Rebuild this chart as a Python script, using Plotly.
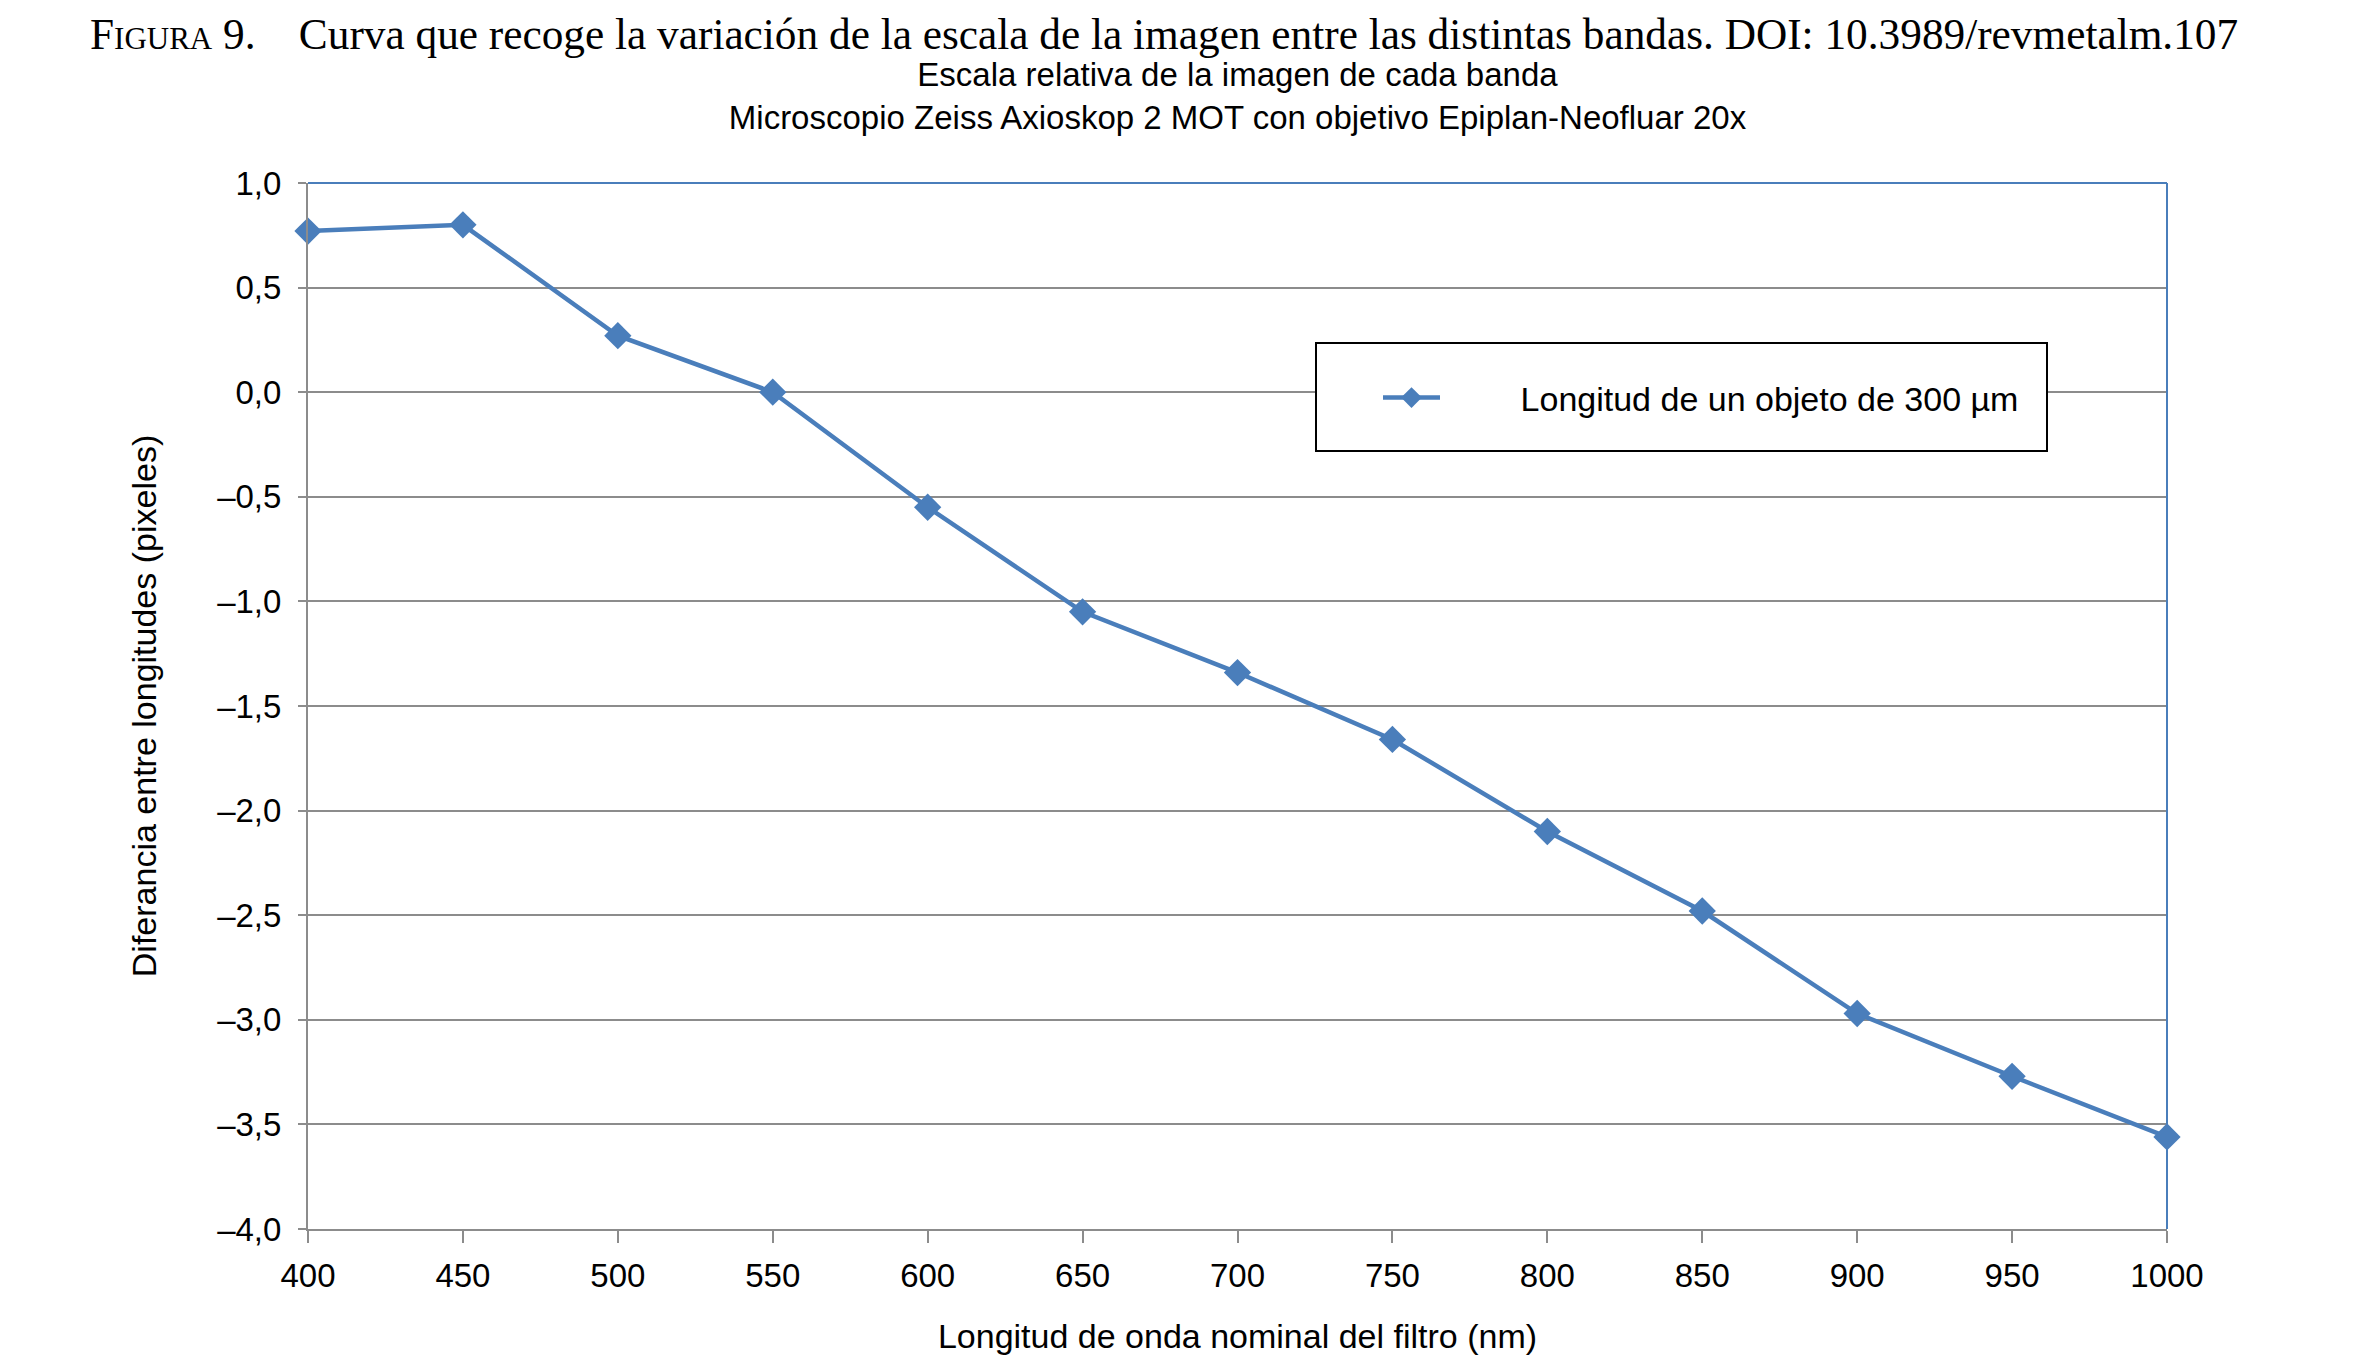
import plotly.graph_objects as go

wavelengths = [400, 450, 500, 550, 600, 650, 700, 750, 800, 850, 900, 950, 1000]
diferencia = [0.77, 0.80, 0.27, 0.0, -0.55, -1.05, -1.34, -1.66, -2.10, -2.48, -2.97, -3.27, -3.56]
series_name = "Longitud de un objeto de 300 µm"
y_ticks = [1.0, 0.5, 0.0, -0.5, -1.0, -1.5, -2.0, -2.5, -3.0, -3.5, -4.0]
y_ticklabels = ["1,0", "0,5", "0,0", "–0,5", "–1,0", "–1,5", "–2,0", "–2,5", "–3,0", "–3,5", "–4,0"]
x_ticks = wavelengths

OFF = 8  # page body margin
W, H = 2358 - 2 * OFF, 1363 - 2 * OFF
# target pixel positions in the final screenshot
L_s, R_s, T_s, B_s = 308, 2167, 183, 1229
L, R, T, B = L_s - OFF, R_s - OFF, T_s - OFF, B_s - OFF

def px(x):
    return (x - OFF - L) / (R - L)

def py(y):
    return (B - (y - OFF)) / (B - T)

blue = "#4A7EBB"
grid = "#8C8C8C"
sans = "Liberation Sans, Arial, sans-serif"
serif = "Liberation Serif, Times New Roman, serif"

fig = go.Figure()
fig.add_trace(go.Scatter(
    x=wavelengths, y=diferencia, mode="lines+markers",
    name="&nbsp;" * 8 + series_name,
    line=dict(color=blue, width=4.5),
    marker=dict(symbol="diamond", size=21, color=blue),
    cliponaxis=False,
))

fig.update_layout(
    width=W, height=H,
    margin=dict(l=L, r=W - R, t=T, b=H - B, autoexpand=False),
    paper_bgcolor="white", plot_bgcolor="white",
    font=dict(family=sans, size=33, color="black"),
    title=dict(
        text="Escala relativa de la imagen de cada banda<br>Microscopio Zeiss Axioskop 2 MOT con objetivo Epiplan-Neofluar 20x",
        x=0.5, xref="paper", xanchor="center",
        y=1 - (86 - OFF) / H, yref="container", yanchor="middle",
        font=dict(family=sans, size=33, color="black"),
    ),
    xaxis=dict(
        range=[400, 1000], tickmode="array", tickvals=x_ticks,
        ticktext=[str(v) for v in x_ticks],
        showgrid=False, zeroline=False, automargin=False,
        showline=True, linecolor=grid, linewidth=2,
        ticks="outside", ticklen=12, tickcolor=grid, tickwidth=1.5,
        ticklabelstandoff=4,
        tickfont=dict(family=sans, size=33),
        title=dict(text="Longitud de onda nominal del filtro (nm)", font=dict(family=sans, size=34), standoff=40),
    ),
    yaxis=dict(
        range=[-4, 1], tickmode="array", tickvals=y_ticks, ticktext=y_ticklabels,
        showgrid=True, gridcolor=grid, gridwidth=1.5, zeroline=False, automargin=False,
        showline=True, linecolor=grid, linewidth=2,
        ticks="outside", ticklen=8, tickcolor=grid, tickwidth=1.5,
        ticklabelstandoff=10,
        tickfont=dict(family=sans, size=33),
        title=dict(text="Diferancia entre longitudes (pixeles)", font=dict(family=sans, size=34), standoff=50),
    ),
    showlegend=True,
    legend=dict(
        x=px(1378), y=py(398), xanchor="left", yanchor="middle",
        bgcolor="rgba(0,0,0,0)", borderwidth=0,
        font=dict(family=sans, size=34), itemwidth=57,
    ),
    shapes=[
        dict(type="line", xref="paper", yref="paper", x0=0, x1=1, y0=1, y1=1,
             line=dict(color=blue, width=2)),
        dict(type="line", xref="paper", yref="paper", x0=1, x1=1, y0=0, y1=1,
             line=dict(color=blue, width=2)),
        dict(type="rect", xref="paper", yref="paper",
             x0=px(1316), x1=px(2047), y0=py(451), y1=py(343),
             line=dict(color="black", width=2), fillcolor="white", layer="above"),
    ],
    annotations=[
        dict(text="F<span style='font-size:31px'>IGURA</span> 9.&nbsp;&nbsp;&nbsp;&nbsp;Curva que recoge la variación de la escala de la imagen entre las distintas bandas. DOI: 10.3989/revmetalm.107",
             xref="paper", yref="paper", x=px(88), y=py(OFF), xanchor="left", yanchor="top",
             showarrow=False, font=dict(family=serif, size=43.3, color="black")),
    ],
)

fig.write_html("out.html")
